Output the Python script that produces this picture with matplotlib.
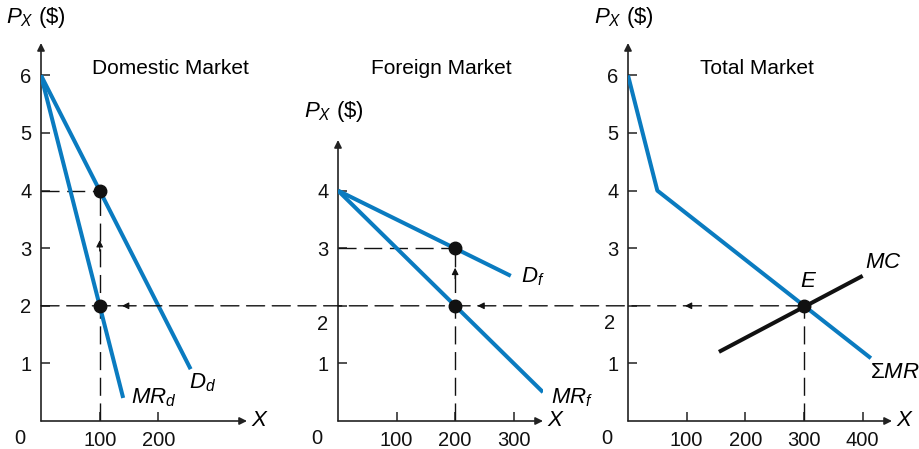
import matplotlib
matplotlib.use("Agg")
import matplotlib.pyplot as plt
from matplotlib.patches import ConnectionPatch

plt.rcParams['font.family'] = ['Liberation Sans', 'DejaVu Sans']
plt.rcParams['mathtext.fontset'] = 'custom'
plt.rcParams['mathtext.rm'] = 'Liberation Sans'
plt.rcParams['mathtext.it'] = 'Liberation Sans:italic'

# ---- data ----
dom_D_x = [0, 255]
dom_D_p = [6, 0.9]
dom_MR_x = [0, 140]
dom_MR_p = [6, 0.4]
for_D_x = [0, 295]
for_D_p = [4, 2.52]
for_MR_x = [0, 350]
for_MR_p = [4, 0.5]
tot_MR_x = [0, 50, 414]
tot_MR_p = [6, 4, 1.09]
mc_x = [155, 400]
mc_p = [1.2, 2.52]
eq_price = 2
dom_q, dom_price = 100, 4
for_q, for_price = 200, 3
tot_q = 300
dom_xticks = [100, 200]
for_xticks = [100, 200, 300]
tot_xticks = [100, 200, 300, 400]

BLUE = '#0a7bc0'
AX = '#222222'
FS = 14.5
W, H = 919, 449

fig = plt.figure(figsize=(W / 100, H / 100), dpi=100)


def make_ax(left, right, top, bottom=421):
    return fig.add_axes([left / W, 1 - bottom / H, (right - left) / W, (bottom - top) / H])


ax1 = make_ax(41, 247, 43)
ax2 = make_ax(338, 543, 140)
ax3 = make_ax(628, 892, 43)
ax1.set_xlim(0, 351); ax1.set_ylim(0, 378 / 57.6)
ax2.set_xlim(0, 350); ax2.set_ylim(0, 281 / 57.6)
ax3.set_xlim(0, 450); ax3.set_ylim(0, 378 / 57.6)

for ax in (ax1, ax2, ax3):
    ax.patch.set_visible(False)
    for s in ax.spines.values():
        s.set_visible(False)
    ax.annotate('', xy=(0, 1), xytext=(0, 0), xycoords='axes fraction',
                arrowprops=dict(arrowstyle='-|>', color=AX, lw=1.2, mutation_scale=11,
                                shrinkA=0, shrinkB=0))
    ax.annotate('', xy=(1, 0), xytext=(0, 0), xycoords='axes fraction',
                arrowprops=dict(arrowstyle='-|>', color=AX, lw=1.2, mutation_scale=11,
                                shrinkA=0, shrinkB=0))
    ax.tick_params(direction='in', length=6.5, width=1.1, color=AX, labelsize=FS,
                   pad=7, labelcolor='#111111')

ax1.set_xticks(dom_xticks); ax1.set_xticklabels([str(v) for v in dom_xticks])
ax2.set_xticks(for_xticks); ax2.set_xticklabels([str(v) for v in for_xticks])
ax3.set_xticks(tot_xticks); ax3.set_xticklabels([str(v) for v in tot_xticks])
ax1.set_yticks([1, 2, 3, 4, 5, 6]); ax1.set_yticklabels(['1', '2', '3', '4', '5', '6'])
ax2.set_yticks([1, 2, 3, 4]); ax2.set_yticklabels(['1', '', '3', '4'])
ax3.set_yticks([1, 2, 3, 4, 5, 6]); ax3.set_yticklabels(['1', '', '3', '4', '5', '6'])
ax2.text(-17, 1.67, '2', fontsize=FS, ha='right', va='center', color='#111111')
ax3.text(-22, 1.70, '2', fontsize=FS, ha='right', va='center', color='#111111')

# origin labels and X axis labels
for ax in (ax1, ax2, ax3):
    ax.annotate('0', xy=(0, 0), xycoords='axes fraction', xytext=(-21, -18),
                textcoords='offset pixels', fontsize=FS, ha='center', va='center',
                color='#111111')
    ax.annotate('$X$', xy=(1, 0), xycoords='axes fraction', xytext=(13, 0),
                textcoords='offset pixels', fontsize=FS + 1.5, ha='center', va='center')

# ---- curves ----
lw = 2.9
ax1.plot(dom_D_x, dom_D_p, color=BLUE, lw=lw, solid_capstyle='butt', zorder=3)
ax1.plot(dom_MR_x, dom_MR_p, color=BLUE, lw=lw, solid_capstyle='butt', zorder=3)
ax2.plot(for_D_x, for_D_p, color=BLUE, lw=lw, solid_capstyle='butt', zorder=3)
ax2.plot(for_MR_x, for_MR_p, color=BLUE, lw=lw, solid_capstyle='butt', zorder=3)
ax3.plot(tot_MR_x, tot_MR_p, color=BLUE, lw=lw, solid_capstyle='butt', zorder=3)
ax3.plot(mc_x, mc_p, color='#111111', lw=lw, solid_capstyle='butt', zorder=3)

# ---- dashed guides ----
dash = dict(color='#111111', lw=1.0, dashes=(13, 5.5), zorder=2)
ax1.plot([0, dom_q], [dom_price, dom_price], **dash)
ax1.plot([dom_q, dom_q], [0, dom_price], **dash)
ax2.plot([0, for_q], [for_price, for_price], **dash)
ax2.plot([for_q, for_q], [0, for_price], **dash)
ax3.plot([tot_q, tot_q], [0, eq_price], **dash)
con = ConnectionPatch(xyA=(0, eq_price), coordsA=ax1.transData,
                      xyB=(tot_q, eq_price), coordsB=ax3.transData,
                      color='#111111', lw=1.0, linestyle=(0, (13, 5.5)), zorder=2)
fig.add_artist(con)


# arrowheads on guides
def arrow(ax, tip, tail):
    ax.annotate('', xy=tip, xytext=tail,
                arrowprops=dict(arrowstyle='-|>', color='#111111', lw=0.8,
                                mutation_scale=10, shrinkA=0, shrinkB=0), zorder=4)


arrow(ax1, (138, eq_price), (150, eq_price))
arrow(ax1, (dom_q, 3.14), (dom_q, 2.95))
arrow(ax2, (238, eq_price), (250, eq_price))
arrow(ax2, (for_q, 2.66), (for_q, 2.47))
arrow(ax3, (97, eq_price), (109, eq_price))

# points
mk = dict(marker='o', color='#111111', ms=9, ls='none', zorder=5)
ax1.plot([dom_q, dom_q], [dom_price, eq_price], **mk)
ax2.plot([for_q, for_q], [for_price, eq_price], **mk)
ax3.plot([tot_q], [eq_price], **mk)

# ---- labels ----
LF = FS + 1.5
ax1.text(276, 0.66, '$D_d$', fontsize=LF, ha='center', va='center')
ax1.text(193, 0.40, '$MR_d$', fontsize=LF, ha='center', va='center')
ax2.text(333, 2.5, '$D_f$', fontsize=LF, ha='center', va='center')
ax2.text(400, 0.40, '$MR_f$', fontsize=LF, ha='center', va='center')
ax3.text(436, 2.76, '$MC$', fontsize=LF, ha='center', va='center')
ax3.text(307, 2.43, '$E$', fontsize=LF, ha='center', va='center')
ax3.text(455, 0.85, 'Σ$MR$', fontsize=LF, ha='center', va='center')

ylab = r'$P_X$ (\$)'
fig.text(36 / W, 1 - 18 / H, ylab, fontsize=LF, ha='center', va='center')
fig.text(334 / W, 1 - 112 / H, ylab, fontsize=LF, ha='center', va='center')
fig.text(624 / W, 1 - 18 / H, ylab, fontsize=LF, ha='center', va='center')

TF = 15
fig.text(170 / W, 1 - 69 / H, 'Domestic Market', fontsize=TF, ha='center', va='center')
fig.text(441 / W, 1 - 69 / H, 'Foreign Market', fontsize=TF, ha='center', va='center')
fig.text(757 / W, 1 - 69 / H, 'Total Market', fontsize=TF, ha='center', va='center')

fig.savefig('out.png', dpi=100)
